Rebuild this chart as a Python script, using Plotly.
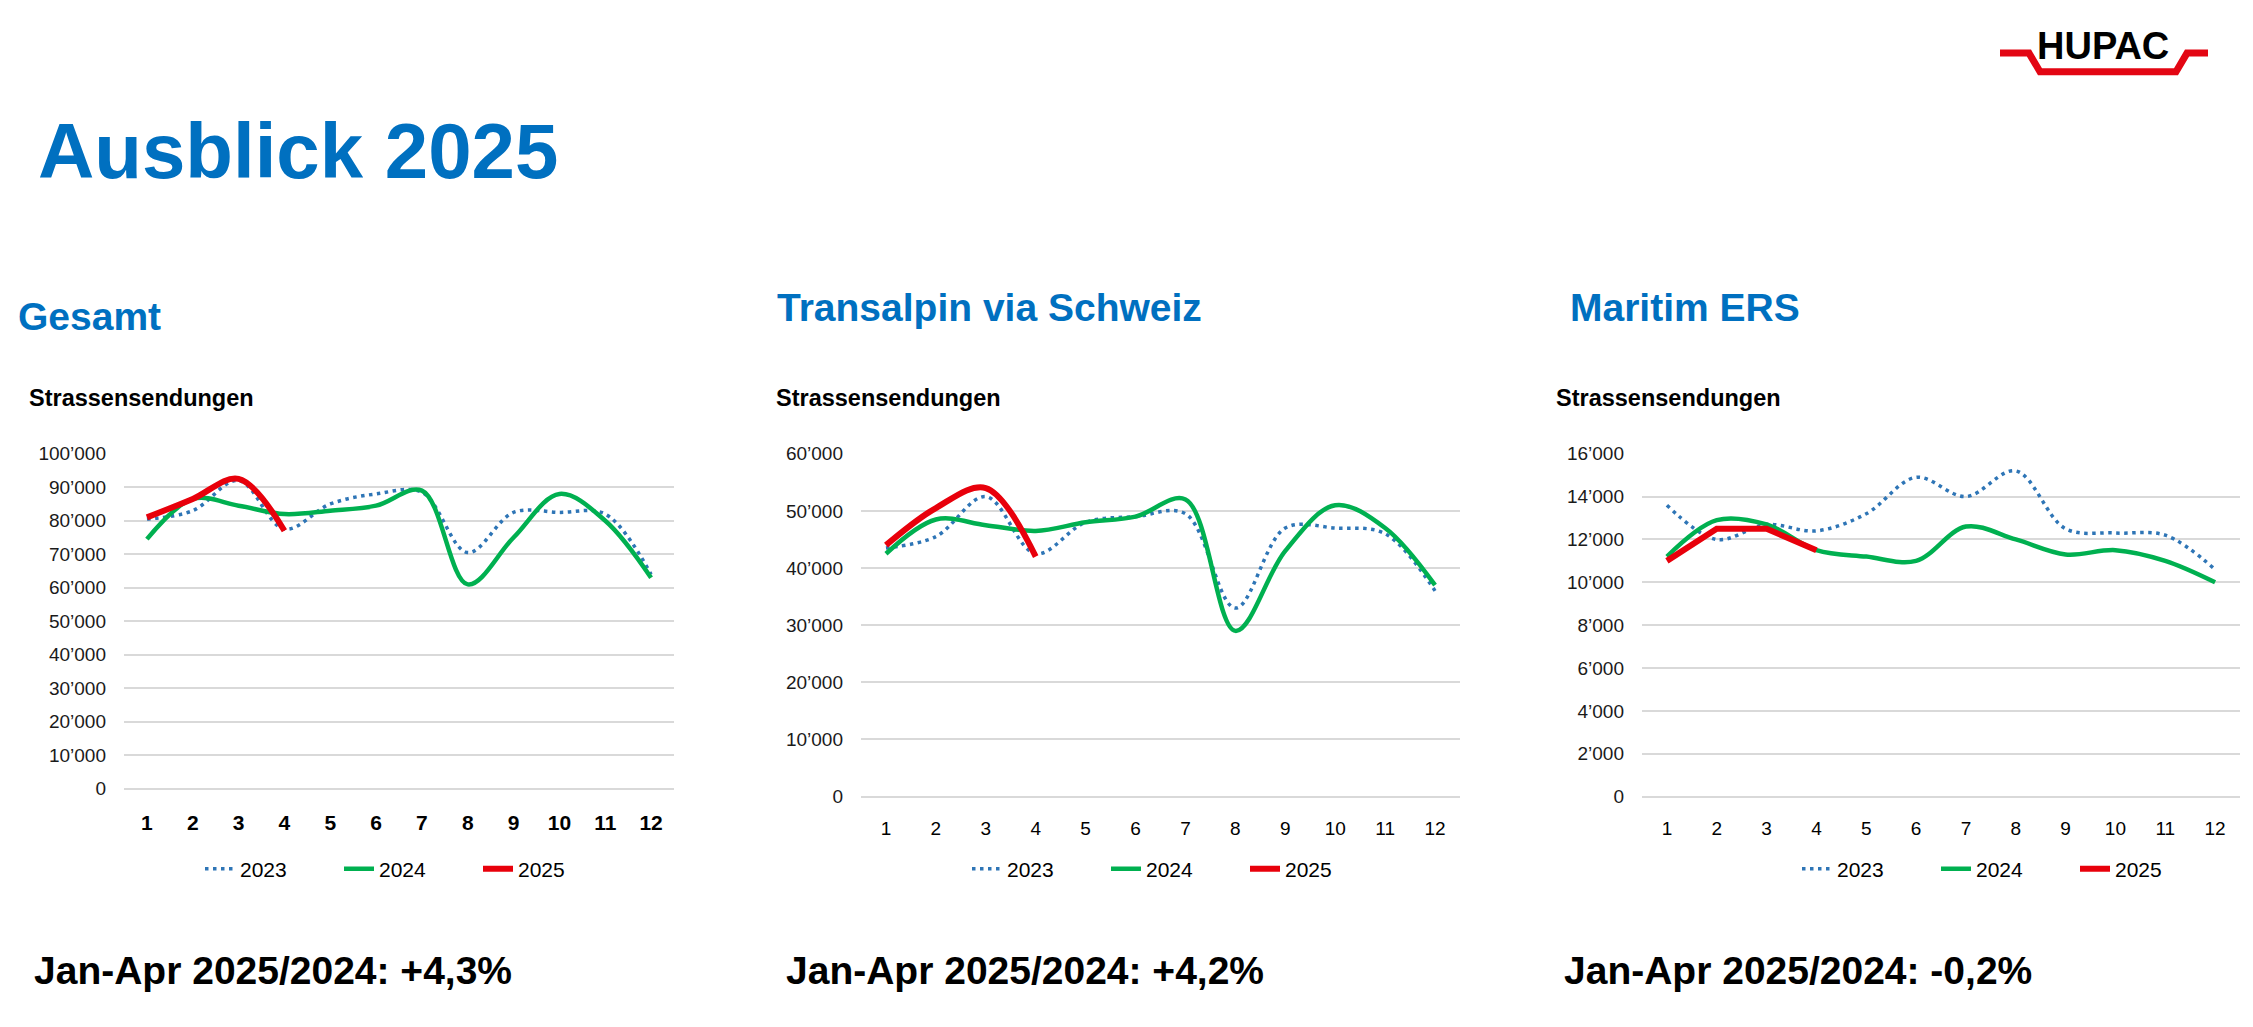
import plotly.graph_objects as go

# ---------------- data ----------------
months = list(range(1, 13))
months_2025 = [1, 2, 3, 4]

gesamt_2023 = [80500, 83000, 92000, 77500, 85000, 88000, 88500, 70500, 82500, 82500, 82000, 64000]
gesamt_2024 = [74500, 86500, 84500, 82000, 83000, 84500, 89000, 61000, 75000, 88000, 80000, 63000]
gesamt_2025 = [81000, 86500, 92500, 77000]

transalpin_2023 = [43500, 45500, 52500, 42500, 48000, 49000, 49500, 33000, 47000, 47000, 46000, 36000]
transalpin_2024 = [42500, 48500, 47500, 46500, 48000, 49000, 52000, 29000, 43000, 51000, 47000, 37000]
transalpin_2025 = [44000, 50500, 54000, 42000]

maritim_2023 = [13600, 12000, 12700, 12400, 13200, 14900, 14000, 15200, 12500, 12300, 12200, 10600]
maritim_2024 = [11200, 12900, 12700, 11500, 11200, 11000, 12600, 12000, 11300, 11500, 11000, 10000]
maritim_2025 = [11000, 12500, 12500, 11500]

series_names = ["2023", "2024", "2025"]
panel_titles = ["Gesamt", "Transalpin via Schweiz", "Maritim ERS"]
axis_caption = "Strassensendungen"
summary_texts = ["Jan-Apr 2025/2024: +4,3%", "Jan-Apr 2025/2024: +4,2%", "Jan-Apr 2025/2024: -0,2%"]
page_title = "Ausblick 2025"
logo_text = "HUPAC"
y_max = [100000, 60000, 16000]
y_step = [10000, 10000, 2000]

# ---------------- layout helpers ----------------
W, H = 2253, 1027
FONT = "Liberation Sans, Arial, sans-serif"
BLUE_TITLE = "#0070C0"
C2023 = "#2E75B6"
C2024 = "#00B050"
C2025 = "#E8000B"
GRID = "#D9D9D9"


def px(x):
    return x / W


def py(y):
    return 1 - y / H


panels = [
    dict(x0=124, x1=674, y0=453, y1=795, leg_text=245, bold_x=True,
         s2023=gesamt_2023, s2024=gesamt_2024, s2025=gesamt_2025, shape2025="spline",
         title_x=16, title_y=313, cap_x=27, sum_x=32),
    dict(x0=861, x1=1460, y0=453, y1=803, leg_text=1012, bold_x=False,
         s2023=transalpin_2023, s2024=transalpin_2024, s2025=transalpin_2025, shape2025="spline",
         title_x=775, title_y=304, cap_x=774, sum_x=784),
    dict(x0=1642, x1=2240, y0=453, y1=803, leg_text=1842, bold_x=False,
         s2023=maritim_2023, s2024=maritim_2024, s2025=maritim_2025, shape2025="linear",
         title_x=1568, title_y=304, cap_x=1554, sum_x=1562),
]

fig = go.Figure()
annotations = []
layout_axes = {}

for i, p in enumerate(panels):
    n = "" if i == 0 else str(i + 1)
    xa, ya = "x" + n, "y" + n
    leg = "legend" + n
    fig.add_trace(go.Scatter(
        x=months, y=p["s2023"], name=series_names[0], mode="lines",
        line=dict(color=C2023, width=3.5, dash="3.5px,4.5px", shape="spline", smoothing=1.0),
        xaxis=xa, yaxis=ya, legend=leg, hoverinfo="skip"))
    fig.add_trace(go.Scatter(
        x=months, y=p["s2024"], name=series_names[1], mode="lines",
        line=dict(color=C2024, width=4.5, shape="spline", smoothing=1.0),
        xaxis=xa, yaxis=ya, legend=leg, hoverinfo="skip"))
    fig.add_trace(go.Scatter(
        x=months_2025, y=p["s2025"], name=series_names[2], mode="lines",
        line=dict(color=C2025, width=6, shape=p["shape2025"], smoothing=1.0),
        xaxis=xa, yaxis=ya, legend=leg, hoverinfo="skip"))

    xfont = dict(family=FONT, size=21 if p["bold_x"] else 19, color="#000000",
                 weight="bold" if p["bold_x"] else "normal")
    layout_axes["xaxis" + n] = dict(
        domain=[px(p["x0"]), px(p["x1"])], anchor=ya, range=[0.5, 12.5],
        tickmode="array", tickvals=months, ticktext=[str(m) for m in months],
        showgrid=False, zeroline=False, showline=False, ticks="",
        tickfont=xfont, ticklabelstandoff=19 if p["bold_x"] else 18, fixedrange=True)
    layout_axes["yaxis" + n] = dict(
        domain=[py(p["y1"]), py(p["y0"])], anchor=xa, range=[0, y_max[i]],
        dtick=y_step[i], tick0=0, tickformat=",d",
        showgrid=True, gridcolor=GRID, gridwidth=2,
        zeroline=True, zerolinecolor=GRID, zerolinewidth=2, showline=False, ticks="",
        tickfont=dict(family=FONT, size=19, color="#1A1A1A"),
        ticklabelstandoff=17, fixedrange=True)
    layout_axes[leg] = dict(
        orientation="h", x=px(p["leg_text"] - 45), xanchor="left",
        y=py(877), yanchor="middle", entrywidth=94, entrywidthmode="pixels",
        font=dict(family=FONT, size=21, color="#000000"),
        bgcolor="rgba(0,0,0,0)", borderwidth=0, traceorder="normal")

    annotations.append(dict(text=panel_titles[i], x=px(p["title_x"]), y=py(p["title_y"]),
                            xref="paper", yref="paper", xanchor="left", yanchor="middle",
                            showarrow=False, font=dict(family=FONT, size=39, color=BLUE_TITLE, weight="bold")))
    annotations.append(dict(text=axis_caption, x=px(p["cap_x"]), y=py(396),
                            xref="paper", yref="paper", xanchor="left", yanchor="middle",
                            showarrow=False, font=dict(family=FONT, size=23.5, color="#000000", weight="bold")))
    annotations.append(dict(text=summary_texts[i], x=px(p["sum_x"]), y=py(981),
                            xref="paper", yref="paper", xanchor="left", yanchor="middle",
                            showarrow=False, font=dict(family=FONT, size=39, color="#000000", weight="bold")))

annotations.append(dict(text=page_title, x=px(36), y=py(144), xref="paper", yref="paper",
                        xanchor="left", yanchor="middle", showarrow=False,
                        font=dict(family=FONT, size=78, color=BLUE_TITLE, weight="bold")))
annotations.append(dict(text=logo_text, x=px(2103), y=py(37), xref="paper", yref="paper",
                        xanchor="center", yanchor="middle", showarrow=False,
                        font=dict(family=FONT, size=38, color="#000000", weight="bold")))

logo_pts = [(2000, 44), (2029, 44), (2040, 63), (2176, 63), (2187, 44), (2208, 44)]
logo_path = "M " + " L ".join(f"{px(x):.5f},{py(y):.5f}" for x, y in logo_pts)
shapes = [dict(type="path", path=logo_path, xref="paper", yref="paper",
               line=dict(color="#E30613", width=7), fillcolor="rgba(0,0,0,0)")]

fig.update_layout(
    width=W, height=H, margin=dict(l=0, r=0, t=0, b=0, pad=0),
    paper_bgcolor="white", plot_bgcolor="white",
    separators=".’", showlegend=True,
    annotations=annotations, shapes=shapes,
    font=dict(family=FONT), hovermode=False,
    **layout_axes,
)

fig.write_html("out.html", config={"displayModeBar": False},
               post_script="document.body.style.margin='0';document.body.style.overflow='hidden';")
